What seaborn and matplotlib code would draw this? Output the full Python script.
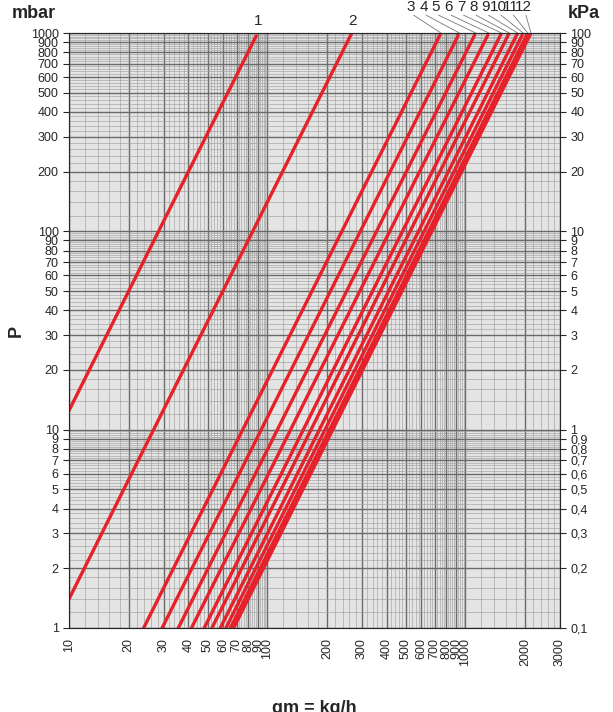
import numpy as np
import matplotlib
matplotlib.use("Agg")
import matplotlib.pyplot as plt
import matplotlib.ticker as mt
import seaborn as sns

sns.set_style("white")
plt.rcParams['font.family'] = ['Liberation Sans', 'DejaVu Sans']

# flow (kg/h) at which each curve reaches P = 1 mbar
curve_names = ["1", "2", "3", "4", "5", "6", "7", "8", "9", "10", "11", "12"]
q_at_1mbar = [2.83, 8.45, 23.8, 29.5, 35.6, 41.5, 48.1, 52.6, 58.0, 61.9, 65.2, 67.7]
x_ticks = [10, 20, 30, 40, 50, 60, 70, 80, 90, 100, 200, 300, 400, 500, 600, 700, 800, 900, 1000, 2000, 3000]
y_ticks = [1, 2, 3, 4, 5, 6, 7, 8, 9, 10, 20, 30, 40, 50, 60, 70, 80, 90, 100, 200, 300, 400, 500, 600, 700, 800, 900, 1000]
kpa_labels = ["0,1", "0,2", "0,3", "0,4", "0,5", "0,6", "0,7", "0,8", "0,9", "1", "2", "3", "4", "5", "6", "7", "8", "9",
              "10", "20", "30", "40", "50", "60", "70", "80", "90", "100"]

fig = plt.figure(figsize=(6.13, 7.12), dpi=100)
ax = fig.add_axes([69/613, 84/712, (560-69)/613, (628-33)/712])
ax.set_facecolor("#e4e4e4")
ax.set_xscale("log")
ax.set_yscale("log")
ax.set_xlim(10, 3000)
ax.set_ylim(1, 1000)

ax.xaxis.set_minor_locator(mt.LogLocator(subs=np.arange(1, 10, 0.2), numticks=100))
ax.yaxis.set_minor_locator(mt.LogLocator(subs=np.arange(1, 10, 0.2), numticks=100))
ax.xaxis.set_minor_formatter(mt.NullFormatter())
ax.yaxis.set_minor_formatter(mt.NullFormatter())
ax.grid(which="minor", color="#9a9a9a", lw=0.4)
ax.set_xticks(x_ticks)
ax.set_yticks(y_ticks)
ax.grid(which="major", color="#6a6a6a", lw=1.0)
ax.xaxis.set_major_formatter(mt.FixedFormatter([str(v) for v in x_ticks]))
ax.yaxis.set_major_formatter(mt.FixedFormatter([str(v) for v in y_ticks]))
ax.tick_params(axis="x", which="major", labelrotation=90, labelsize=9, length=4)
ax.tick_params(axis="y", which="major", labelsize=9, length=4)
ax.tick_params(which="minor", length=0)
for s in ax.spines.values():
    s.set_color("#6a6a6a")

qq = np.logspace(1, np.log10(3000), 300)
for name, q1 in zip(curve_names, q_at_1mbar):
    p = (qq / q1) ** 2
    m = p <= 1000
    sns.lineplot(x=qq[m], y=p[m], ax=ax, color="#e8202a", lw=2.4)

# curve numbers above the top border
label_x = {"1": 90, "2": 268}
for name, q1 in zip(curve_names, q_at_1mbar):
    qtop = q1 * np.sqrt(1000)
    if name in label_x:
        ax.text(label_x[name], 1060, name, ha="center", va="bottom", fontsize=11)
    else:
        i = int(name) - 3
        lx = 10 ** (1 + (409 + i * 12.4 - 69) / 197)
        ax.text(lx, 1250, name, ha="center", va="bottom", fontsize=11, clip_on=False)
        ax.plot([lx * 1.03, qtop], [1230, 1000], color="#777777", lw=0.6, clip_on=False)

ay = ax.twinx()
ay.set_yscale("log")
ay.set_ylim(1, 1000)
ay.set_yticks(y_ticks)
ay.yaxis.set_major_formatter(mt.FixedFormatter(kpa_labels))
ay.yaxis.set_minor_locator(mt.NullLocator())
ay.yaxis.set_minor_formatter(mt.NullFormatter())
ay.tick_params(axis="y", labelsize=9, length=4)

ax.set_ylabel("P", fontsize=13, fontweight="bold")
ax.set_xlabel("qm = kg/h", fontsize=13, fontweight="bold", labelpad=24)
fig.text(12/613, 1 - 14/712, "mbar", fontsize=13, fontweight="bold", va="center")
fig.text(568/613, 1 - 14/712, "kPa", fontsize=13, fontweight="bold", va="center")

fig.savefig("out.png", dpi=100)
